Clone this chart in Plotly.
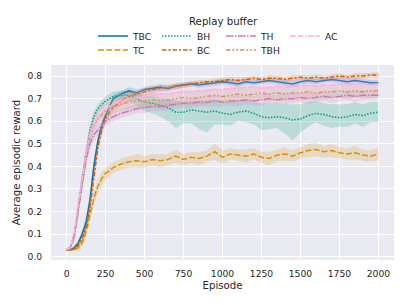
import plotly.graph_objects as go

EPISODES = [0, 25, 50, 75, 100, 125, 150, 175, 200, 225, 250, 275, 300,
            350, 400, 450, 500, 550, 600, 650, 700, 750, 800,
            850, 900, 950, 1000, 1050, 1100, 1150, 1200, 1250, 1300,
            1350, 1400, 1450, 1500, 1550, 1600, 1650, 1700, 1750, 1800,
            1850, 1900, 1950, 2000]

TBC = [0.03, 0.03, 0.04, 0.06, 0.10, 0.15, 0.25, 0.40, 0.51, 0.58, 0.625, 0.665, 0.70,
       0.72, 0.735, 0.725, 0.74, 0.745, 0.75, 0.745, 0.755, 0.76, 0.765,
       0.76, 0.765, 0.77, 0.775, 0.77, 0.765, 0.775, 0.77, 0.775, 0.78,
       0.775, 0.77, 0.765, 0.775, 0.78, 0.775, 0.78, 0.785, 0.78, 0.775,
       0.78, 0.775, 0.77, 0.77]
TBC_ERR = [0.005, 0.005, 0.008, 0.012, 0.02, 0.03, 0.03, 0.03, 0.025, 0.02, 0.02, 0.015, 0.015,
           0.015, 0.015, 0.015, 0.012, 0.012, 0.015, 0.012, 0.012, 0.012, 0.01,
           0.012, 0.012, 0.01, 0.012, 0.012, 0.015, 0.012, 0.012, 0.01, 0.012,
           0.012, 0.015, 0.015, 0.012, 0.012, 0.012, 0.01, 0.012, 0.012, 0.012,
           0.012, 0.012, 0.012, 0.012]

TC = [0.03, 0.03, 0.03, 0.04, 0.06, 0.11, 0.19, 0.26, 0.31, 0.345, 0.37, 0.38, 0.395,
      0.41, 0.42, 0.425, 0.42, 0.43, 0.425, 0.43, 0.445, 0.43, 0.44,
      0.435, 0.445, 0.465, 0.44, 0.455, 0.45, 0.445, 0.455, 0.44, 0.435,
      0.45, 0.455, 0.445, 0.46, 0.47, 0.475, 0.465, 0.47, 0.46, 0.455,
      0.46, 0.45, 0.445, 0.455]
TC_ERR = [0.005, 0.005, 0.005, 0.01, 0.015, 0.02, 0.025, 0.03, 0.03, 0.03, 0.025, 0.025, 0.025,
          0.025, 0.025, 0.03, 0.025, 0.025, 0.03, 0.025, 0.03, 0.025, 0.025,
          0.03, 0.025, 0.035, 0.03, 0.025, 0.025, 0.03, 0.025, 0.025, 0.03,
          0.025, 0.03, 0.025, 0.025, 0.03, 0.03, 0.025, 0.03, 0.025, 0.025,
          0.03, 0.025, 0.025, 0.03]

BH = [0.03, 0.04, 0.10, 0.22, 0.35, 0.46, 0.56, 0.62, 0.655, 0.675, 0.69, 0.70, 0.71,
      0.715, 0.715, 0.70, 0.685, 0.68, 0.67, 0.66, 0.64, 0.64, 0.65,
      0.645, 0.64, 0.645, 0.635, 0.63, 0.64, 0.645, 0.635, 0.62, 0.615,
      0.62, 0.615, 0.605, 0.61, 0.625, 0.635, 0.63, 0.62, 0.615, 0.62,
      0.63, 0.625, 0.635, 0.64]
BH_ERR_LO = [0.005, 0.01, 0.02, 0.03, 0.03, 0.03, 0.03, 0.025, 0.02, 0.02, 0.02, 0.02, 0.02,
             0.02, 0.025, 0.03, 0.04, 0.045, 0.05, 0.06, 0.07, 0.05, 0.06,
             0.08, 0.09, 0.06, 0.05, 0.05, 0.04, 0.05, 0.05, 0.06, 0.05,
             0.05, 0.07, 0.09, 0.06, 0.05, 0.04, 0.05, 0.05, 0.04, 0.045,
             0.04, 0.05, 0.04, 0.045]
BH_ERR_HI = [0.005, 0.01, 0.02, 0.03, 0.03, 0.03, 0.03, 0.025, 0.02, 0.02, 0.02, 0.02, 0.02,
             0.02, 0.02, 0.025, 0.03, 0.03, 0.035, 0.04, 0.05, 0.045, 0.04,
             0.045, 0.045, 0.05, 0.05, 0.055, 0.05, 0.045, 0.05, 0.06, 0.065,
             0.06, 0.06, 0.07, 0.065, 0.06, 0.055, 0.05, 0.055, 0.06, 0.055,
             0.055, 0.05, 0.05, 0.045]

BC = [0.03, 0.03, 0.035, 0.05, 0.08, 0.13, 0.22, 0.36, 0.48, 0.56, 0.61, 0.64, 0.66,
      0.69, 0.71, 0.72, 0.73, 0.74, 0.745, 0.75, 0.755, 0.76, 0.765,
      0.77, 0.775, 0.775, 0.78, 0.785, 0.78, 0.785, 0.79, 0.785, 0.79,
      0.79, 0.785, 0.79, 0.795, 0.79, 0.795, 0.79, 0.795, 0.80, 0.795,
      0.80, 0.80, 0.805, 0.805]
BC_ERR = [0.005, 0.005, 0.008, 0.01, 0.015, 0.02, 0.03, 0.03, 0.03, 0.025, 0.02, 0.02, 0.02,
          0.02, 0.02, 0.015, 0.015, 0.015, 0.012, 0.012, 0.015, 0.012, 0.012,
          0.012, 0.01, 0.012, 0.012, 0.01, 0.012, 0.012, 0.01, 0.012, 0.012,
          0.01, 0.012, 0.012, 0.01, 0.012, 0.012, 0.01, 0.012, 0.012, 0.01,
          0.012, 0.012, 0.01, 0.012]

TH = [0.03, 0.04, 0.09, 0.20, 0.33, 0.43, 0.50, 0.54, 0.56, 0.58, 0.60, 0.61, 0.62,
      0.635, 0.645, 0.655, 0.66, 0.665, 0.665, 0.67, 0.675, 0.68, 0.68,
      0.685, 0.685, 0.69, 0.685, 0.69, 0.69, 0.695, 0.69, 0.695, 0.70,
      0.695, 0.70, 0.70, 0.705, 0.70, 0.705, 0.71, 0.705, 0.71, 0.715,
      0.71, 0.715, 0.715, 0.715]
TH_ERR = [0.005, 0.01, 0.02, 0.025, 0.025, 0.025, 0.025, 0.025, 0.02, 0.02, 0.02, 0.02, 0.02,
          0.02, 0.02, 0.02, 0.025, 0.02, 0.02, 0.025, 0.02, 0.02, 0.025,
          0.02, 0.02, 0.025, 0.02, 0.02, 0.025, 0.02, 0.02, 0.025, 0.02,
          0.02, 0.025, 0.02, 0.02, 0.025, 0.02, 0.02, 0.025, 0.02, 0.02,
          0.025, 0.02, 0.02, 0.02]

TBH = [0.03, 0.04, 0.10, 0.22, 0.35, 0.45, 0.53, 0.58, 0.61, 0.63, 0.645, 0.655, 0.665,
       0.675, 0.685, 0.69, 0.69, 0.695, 0.69, 0.695, 0.70, 0.705, 0.70,
       0.705, 0.71, 0.715, 0.71, 0.715, 0.72, 0.715, 0.72, 0.725, 0.72,
       0.725, 0.72, 0.725, 0.725, 0.73, 0.725, 0.73, 0.73, 0.735, 0.73,
       0.735, 0.73, 0.735, 0.735]
TBH_ERR = [0.005, 0.01, 0.02, 0.03, 0.03, 0.03, 0.03, 0.03, 0.03, 0.03, 0.03, 0.03, 0.03,
           0.03, 0.03, 0.035, 0.03, 0.03, 0.035, 0.03, 0.03, 0.035, 0.03,
           0.03, 0.035, 0.03, 0.03, 0.035, 0.03, 0.03, 0.035, 0.03, 0.03,
           0.035, 0.03, 0.03, 0.035, 0.03, 0.03, 0.035, 0.03, 0.03, 0.035,
           0.03, 0.03, 0.035, 0.03]

AC = [0.03, 0.04, 0.11, 0.23, 0.36, 0.46, 0.54, 0.59, 0.62, 0.64, 0.655, 0.665, 0.675,
      0.69, 0.70, 0.705, 0.71, 0.715, 0.72, 0.72, 0.725, 0.73, 0.73,
      0.735, 0.735, 0.74, 0.74, 0.745, 0.745, 0.75, 0.75, 0.745, 0.75,
      0.755, 0.75, 0.755, 0.755, 0.76, 0.755, 0.76, 0.76, 0.765, 0.76,
      0.765, 0.765, 0.76, 0.765]
AC_ERR = [0.005, 0.01, 0.02, 0.03, 0.03, 0.03, 0.03, 0.03, 0.03, 0.03, 0.03, 0.03, 0.03,
          0.03, 0.03, 0.03, 0.035, 0.03, 0.03, 0.035, 0.03, 0.03, 0.035,
          0.03, 0.03, 0.035, 0.03, 0.03, 0.035, 0.03, 0.03, 0.035, 0.03,
          0.03, 0.035, 0.03, 0.03, 0.035, 0.03, 0.03, 0.035, 0.03, 0.03,
          0.035, 0.03, 0.03, 0.03]

X_TICKS = [0, 250, 500, 750, 1000, 1250, 1500, 1750, 2000]
Y_TICKS = [0.0, 0.1, 0.2, 0.3, 0.4, 0.5, 0.6, 0.7, 0.8]

# name, mean, err_lo, err_hi, color, dash, legend row
SERIES = [
    ("TBC", TBC, TBC_ERR, TBC_ERR, "#0173b2", "solid", "legend"),
    ("TC", TC, TC_ERR, TC_ERR, "#de8f05", "6px,2.25px", "legend2"),
    ("BH", BH, BH_ERR_LO, BH_ERR_HI, "#029e73", "1.5px,1.5px", "legend"),
    ("BC", BC, BC_ERR, BC_ERR, "#d55e00", "4.5px,1.9px,2.25px,1.9px", "legend2"),
    ("TH", TH, TH_ERR, TH_ERR, "#cc78bc", "7.5px,1.5px,1.5px,1.5px", "legend"),
    ("TBH", TBH, TBH_ERR, TBH_ERR, "#ca9161", "4.5px,1.9px,1.9px,1.9px,1.9px,1.9px", "legend2"),
    ("AC", AC, AC_ERR, AC_ERR, "#fbafe4", "6px,1.5px,6px,1.5px,1.5px,1.5px", "legend"),
]


def rgba(hexc, a):
    h = hexc.lstrip("#")
    return "rgba(%d,%d,%d,%s)" % (int(h[0:2], 16), int(h[2:4], 16), int(h[4:6], 16), a)


fig = go.Figure()
for name, mean, elo, ehi, color, dash, leg in SERIES:
    upper = [m + e for m, e in zip(mean, ehi)]
    lower = [m - e for m, e in zip(mean, elo)]
    fig.add_trace(go.Scatter(x=EPISODES, y=upper, mode="lines", line=dict(width=0),
                             showlegend=False, hoverinfo="skip"))
    fig.add_trace(go.Scatter(x=EPISODES, y=lower, mode="lines", line=dict(width=0),
                             fill="tonexty", fillcolor=rgba(color, 0.2),
                             showlegend=False, hoverinfo="skip"))
    fig.add_trace(go.Scatter(x=EPISODES, y=mean, mode="lines", name=name,
                             line=dict(color=color, width=1.5, dash=dash),
                             legend=leg))

TXT = "#262626"
FONT = "DejaVu Sans"
legend_common = dict(orientation="h", xref="container", yref="container",
                     xanchor="left", yanchor="middle", x=93 / 407,
                     bgcolor="rgba(0,0,0,0)", font=dict(family=FONT, size=9.2, color=TXT),
                     entrywidth=19, entrywidthmode="pixels", itemwidth=30,
                     tracegroupgap=0, traceorder="normal")

fig.update_layout(
    width=407, height=305,
    margin=dict(l=51, r=13, t=65, b=45),
    paper_bgcolor="white", plot_bgcolor="#eaeaf2",
    font=dict(family=FONT, color=TXT, size=9.2),
    legend=dict(**legend_common, y=1 - 36 / 305),
    legend2=dict(**legend_common, y=1 - 50 / 305),
    annotations=[dict(text="Replay buffer", xref="paper", yref="paper",
                      x=(223 - 51) / 343, y=(260 - 22) / 195, showarrow=False,
                      xanchor="center", yanchor="middle",
                      font=dict(family=FONT, size=10.2, color=TXT))],
    xaxis=dict(range=[-100, 2100], tickvals=X_TICKS, ticktext=[str(v) for v in X_TICKS],
               showgrid=True, gridcolor="white", gridwidth=1.2, zeroline=False,
               showline=False, ticks="outside", ticklen=5, tickcolor="rgba(0,0,0,0)",
               tickfont=dict(family=FONT, size=9.2, color=TXT),
               title=dict(text="Episode", standoff=3,
                          font=dict(family=FONT, size=10.2, color=TXT)),
               automargin=False),
    yaxis=dict(range=[-0.015, 0.849], tickvals=Y_TICKS, ticktext=["%.1f" % v for v in Y_TICKS],
               showgrid=True, gridcolor="white", gridwidth=1.2, zeroline=False,
               showline=False, ticks="outside", ticklen=6, tickcolor="rgba(0,0,0,0)",
               tickfont=dict(family=FONT, size=9.2, color=TXT),
               title=dict(text="Average episodic reward", standoff=4,
                          font=dict(family=FONT, size=10.2, color=TXT)),
               automargin=False),
)

fig.write_html("out.html", config={"displayModeBar": False},
               post_script="document.body.style.margin='0px';document.body.style.padding='0px';")
